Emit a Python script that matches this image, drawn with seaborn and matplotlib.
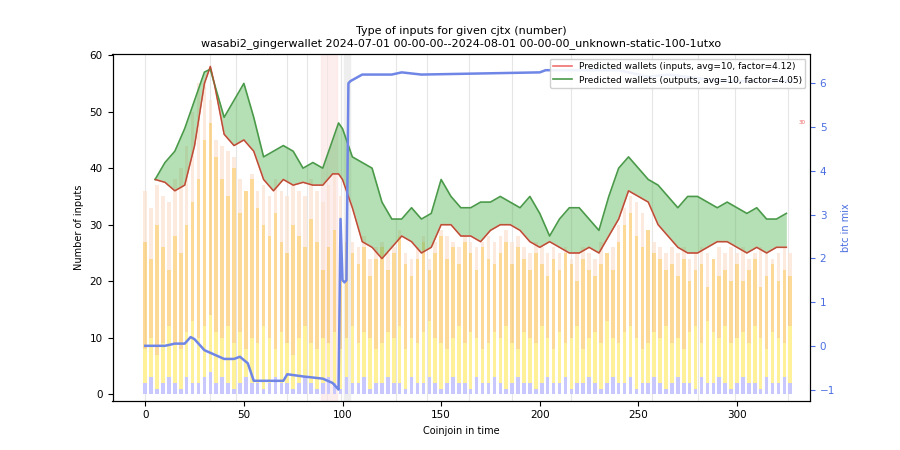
import numpy as np
import pandas as pd
import matplotlib
matplotlib.use("Agg")
import matplotlib.pyplot as plt
import seaborn as sns

# --- data ---
BAR_X = list(range(0, 330, 3))
BLUE_TOP = [2,3,1,2,3,2,1,3,2,2, 3,4,2,3,2,1,2,3,2,2, 1,2,3,2,2,1,2,3,2,1,
            2,3,2,1,3,2,2,3,1,2, 2,3,2,2,1,3,2,2,3,2, 1,2,3,2,2,1,3,2,2,3,
            2,1,2,3,2,2,1,2,3,2, 2,3,1,2,2,3,2,1,2,3, 2,2,3,1,2,2,3,2,1,2,
            3,2,2,1,3,2,2,3,2,1, 2,3,2,2,1,3,2,2,3,2]
YELLOW_TOP = [8,10,7,9,12,9,8,11,13,10, 12,14,11,10,12,9,11,8,10,9, 12,10,8,11,9,7,10,12,9,8,
              10,9,11,8,10,12,9,11,10,8, 9,11,10,12,8,10,9,11,13,10, 9,8,10,12,9,11,10,8,9,11,
              10,12,9,8,11,10,9,12,10,8, 11,9,10,12,8,10,11,9,13,10, 9,11,12,10,8,9,11,10,12,9,
              10,8,11,12,9,13,11,10,12,9, 10,11,9,12,10,8,11,10,9,12]
ORANGE_TOP = [27,24,30,26,22,28,25,30,34,38, 45,48,42,38,35,40,32,36,38,33,
              30,28,32,27,25,30,28,26,31,27, 22,26,29,24,27,25,23,26,21,24,
              26,22,25,28,23,21,24,27,22,25, 28,24,26,23,27,25,22,26,24,23,
              25,27,23,26,24,22,25,23,21,24, 22,25,23,20,24,22,21,23,25,22,
              27,30,32,28,26,29,25,24,22,23, 21,24,20,22,23,19,24,21,22,20,
              23,20,22,24,19,21,23,20,22,21]
PALE_TOP = [36,33,37,35,34,38,40,44,50,55, 55,52,45,44,43,42,38,36,39,36,
            37,35,38,36,35,37,36,35,38,36, 34,37,39,35,30,27,26,28,24,26,
            27,25,26,29,25,24,26,28,24,27, 29,28,27,26,28,27,26,27,28,27,
            28,29,27,28,26,25,27,26,25,26, 25,26,24,25,26,25,24,27,25,26,
            30,33,35,34,32,29,27,26,25,26, 25,26,24,25,26,25,24,26,25,26,
            25,26,24,25,26,25,24,25,26,25]

LINE_X = [5,10,15,20,25,30,33,35,40,45,50,55,60,65,70,75,80,85,90,95,98,100,105,110,115,120,
          125,130,135,140,145,150,155,160,165,170,175,180,185,190,195,200,205,210,215,220,225,
          230,235,240,245,250,255,260,265,270,275,280,285,290,295,300,305,310,315,320,325]
INPUTS = [38,37.5,36,37,44,55,58,55,46,44,45,43,38,36,38,37,37.5,37,37,39,39,38,33,27,26,24,
          26,28,27,25,26,30,30,28,28,27,29,30,30,29,27,26,27,26,25,25,26,
          25,28,31,36,35,34,30,28,26,25,25,26,27,27,26,25,26,25,26,26]
OUTPUTS = [38,41,43,47,52,57,57.5,55,49,52,55,49,42,43,44,43,40,41,40,45,48,47,42,41,40,34,
           31,31,33,31,32,38,35,33,33,34,34,35,34,33,35,32,28,31,33,33,31,
           29,35,40,42,40,38,37,35,33,35,35,34,33,34,33,32,33,31,31,32]

BTC_X = [0,10,15,20,23,25,30,35,40,45,48,52,55,60,70,72,80,90,95,97,98,99,100,101,102,103,104,
         110,125,130,140,200,203,240,250,255,265,283,290,328]
BTC = [0.0,0.0,0.05,0.05,0.2,0.15,-0.1,-0.2,-0.3,-0.3,-0.25,-0.4,-0.8,-0.8,-0.8,-0.65,-0.7,
       -0.75,-0.85,-0.95,-1.0,2.9,1.5,1.45,1.5,6.0,6.05,6.2,6.2,6.25,6.2,6.25,6.3,6.3,6.2,6.15,
       6.2,6.1,6.05,6.05]

VLINES = [0,33,46,72,82,92,99,127,143,164,186,216,257,280,299,326]

# --- plot ---
fig, ax = plt.subplots(figsize=(9, 4.5), dpi=100)

for v in VLINES:
    ax.axvline(v, color="#e6e6e6", lw=0.8, zorder=0)
ax.axvspan(101, 104, color="#eeeeee", zorder=0)
ax.axvspan(89, 97, color="#fde3e3", alpha=0.6, zorder=0)

w = 1.8
ax.bar(BAR_X, BLUE_TOP, width=w, color="#c8c8ff", zorder=1)
ax.bar(BAR_X, np.subtract(YELLOW_TOP, BLUE_TOP), bottom=BLUE_TOP, width=w, color="#fff09a", zorder=1)
ax.bar(BAR_X, np.subtract(ORANGE_TOP, YELLOW_TOP), bottom=YELLOW_TOP, width=w, color="#fbc96a", alpha=0.7, zorder=1)
ax.bar(BAR_X, np.subtract(PALE_TOP, ORANGE_TOP), bottom=ORANGE_TOP, width=w, color="#fbe2d2", alpha=0.7, zorder=1)

df = pd.DataFrame({"x": LINE_X, "inputs": INPUTS, "outputs": OUTPUTS})
ax.fill_between(df["x"], df["inputs"], df["outputs"], color="#5cb85c", alpha=0.45, lw=0, zorder=2)
sns.lineplot(data=df, x="x", y="inputs", ax=ax, color="#f07070", lw=1.2, zorder=3,
             label="Predicted wallets (inputs, avg=10, factor=4.12)")
sns.lineplot(data=df, x="x", y="outputs", ax=ax, color="#4a9a4a", lw=1.2, zorder=3,
             label="Predicted wallets (outputs, avg=10, factor=4.05)")
sns.lineplot(x=df["x"], y=df["inputs"], ax=ax, color="#b05030", lw=0.8, zorder=3)

ax.set_xlim(-16.6, 337)
ax.set_ylim(-1.1, 60.2)
ax.set_xlabel("Coinjoin in time", fontsize=7)
ax.set_ylabel("Number of inputs", fontsize=7)
ax.tick_params(labelsize=7.5)
ax.set_title("Type of inputs for given cjtx (number)\n"
             "wasabi2_gingerwallet 2024-07-01 00-00-00--2024-08-01 00-00-00_unknown-static-100-1utxo",
             fontsize=8)
ax.text(331, 48, "30", color="#f06060", fontsize=4, va="center")

ax2 = ax.twinx()
sns.lineplot(x=BTC_X, y=BTC, ax=ax2, color="#6f86e6", lw=1.8, zorder=4)
ax2.set_ylim(-1.25, 6.67)
ax2.set_ylabel("btc in mix", color="#4a6ee0", fontsize=7)
ax2.tick_params(axis="y", colors="#4a6ee0", labelsize=7.5)
h, l = ax.get_legend_handles_labels()
ax.get_legend().remove()
ax2.legend(h, l, loc="upper right", fontsize=6.5, framealpha=0.9)

fig.savefig("out.png", dpi=100)
